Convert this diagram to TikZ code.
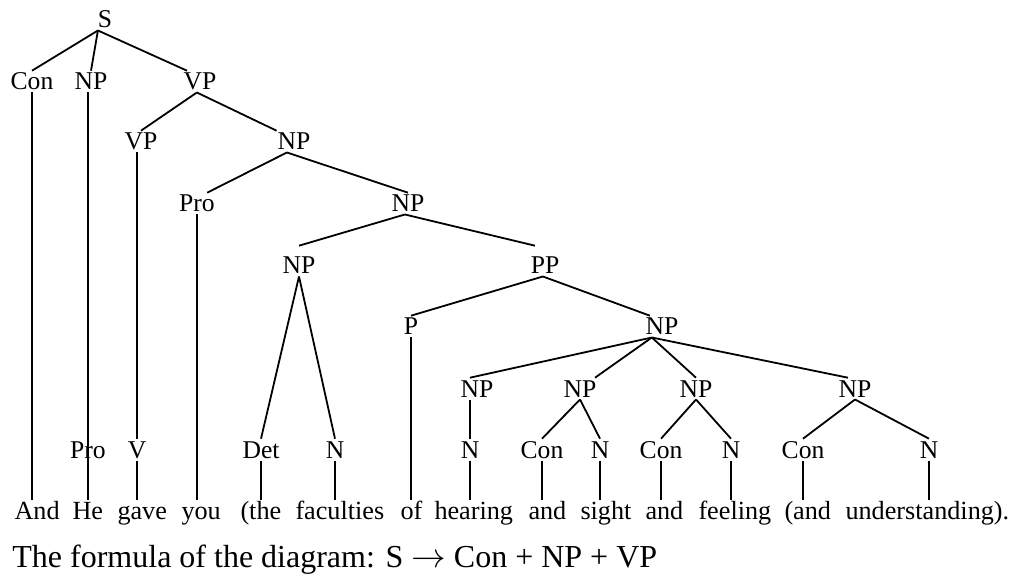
\documentclass[tikz,border=0pt]{standalone}
\usepackage{fontspec}
\setmainfont{Liberation Serif}
\usepackage{tikz}
\tikzset{
  tag/.style={font=\fontsize{12.8}{15}\selectfont, inner sep=0pt, outer sep=1.25pt,
    text height=8.4pt, text depth=0pt, anchor=base},
  word/.style={tag, font=\fontsize{13.1}{15}\selectfont, anchor=base west},
  branch/.style={line width=0.9pt}
}
\begin{document}
\begin{tikzpicture}[x=0.5pt,y=-0.5pt]
\useasboundingbox (0,0) rectangle (1015,576);
% Phrase labels
\node[tag] (s) at (105,28) {S};
\node[tag] (con1) at (32,90) {Con};
\node[tag] (np1) at (91,90) {NP};
\node[tag] (vp1) at (200,90) {VP};
\node[tag] (vp2) at (141,150) {VP};
\node[tag] (np2) at (294,150) {NP};
\node[tag] (pro3) at (197,212) {Pro};
\node[tag] (np3) at (408,212) {NP};
\node[tag] (np4) at (299,274) {NP};
\node[tag] (pp) at (545,274) {PP};
\node[tag] (p) at (411,335) {P};
\node[tag] (np5) at (662,335) {NP};
\node[tag] (np6) at (477,397) {NP};
\node[tag] (np7) at (580,397) {NP};
\node[tag] (np8) at (696,397) {NP};
\node[tag] (np9) at (855,397) {NP};
% Word classes
\node[tag] (pro7) at (88,458) {Pro};
\node[tag] (v7) at (137,458) {V};
\node[tag] (det) at (261,458) {Det};
\node[tag] (n7) at (335,458) {N};
\node[tag] (n1) at (470,458) {N};
\node[tag] (conb) at (542,458) {Con};
\node[tag] (n2) at (600,458) {N};
\node[tag] (conc) at (661,458) {Con};
\node[tag] (n3) at (731,458) {N};
\node[tag] (cond) at (803,458) {Con};
\node[tag] (n4) at (929,458) {N};
% Sentence
\node[word] (and) at (12,519) {And};
\node[word] (he) at (70,519) {He};
\node[word] (gave) at (115,519) {gave};
\node[word] (you) at (179,519) {you};
\node[word] (the) at (238,519) {(the};
\node[word] (faculties) at (293,519) {faculties};
\node[word] (of) at (398,519) {of};
\node[word] (hearing) at (432,519) {hearing};
\node[word] (anda) at (526,519) {and};
\node[word] (sight) at (578,519) {sight};
\node[word] (andb) at (643,519) {and};
\node[word] (feeling) at (696,519) {feeling};
\node[word] (andc) at (782,519) {(and};
\node[word] (understanding) at (843,519) {understanding).};
\node[anchor=base west, inner sep=0pt, font=\fontsize{16}{18}\selectfont] (formula) at (12,567)
  {The formula of the diagram: S $\rightarrow$ Con + NP + VP};

% Branches
\draw[branch] (s.237) -- (con1.north);
\draw[branch] (s.237) -- (np1.north);
\draw[branch] (s.237) -- (vp1.140);
\draw[branch] (vp1.254) -- (vp2.north);
\draw[branch] (vp1.254) -- (np2.148);
\draw[branch] (np2.237) -- (pro3.47);
\draw[branch] (np2.237) -- (np3.north);
\draw[branch] (np3.254) -- ([yshift=4.5pt]np4.north);
\draw[branch] (np3.254) -- ([xshift=-5pt,yshift=4.5pt]pp.north);
\draw[branch] (pp.259) -- (p.north);
\draw[branch] (pp.259) -- (np5.138);
\draw[branch] (np5.227) -- (n1.north |- np6.north);
\draw[branch] (np5.227) -- (np7.36);
\draw[branch] (np5.227) -- (np8.north);
\draw[branch] (np5.227) -- (np9.123);
\draw[branch] (np4.south) -- (det.north);
\draw[branch] (np4.south) -- (n7.north);
\draw[branch] (np7.south) -- (conb.north);
\draw[branch] (np7.south) -- (n2.north);
\draw[branch] (np8.south) -- (conc.north);
\draw[branch] (np8.south) -- (n3.north);
\draw[branch] (np9.south) -- (cond.north);
\draw[branch] (np9.south) -- (n4.north);
\draw[branch] (n1.north |- np6.south) -- (n1.north);
\draw[branch] (v7.north |- vp2.south) -- (v7.north);

% Down to the words
\draw[branch] (con1.south) -- (con1.south |- and.north);
\draw[branch] (pro7.south |- np1.south) -- (pro7.south |- he.north);
\draw[branch] (v7.south) -- (v7.south |- gave.north);
\draw[branch] (pro3.south) -- (pro3.south |- you.north);
\draw[branch] (det.south) -- (det.south |- the.north);
\draw[branch] (n7.south) -- (n7.south |- faculties.north);
\draw[branch] (p.south) -- (p.south |- of.north);
\draw[branch] (n1.south) -- (n1.south |- hearing.north);
\draw[branch] (conb.south) -- (conb.south |- anda.north);
\draw[branch] (n2.south) -- (n2.south |- sight.north);
\draw[branch] (conc.south) -- (conc.south |- andb.north);
\draw[branch] (n3.south) -- (n3.south |- feeling.north);
\draw[branch] (cond.south) -- (cond.south |- andc.north);
\draw[branch] (n4.south) -- (n4.south |- understanding.north);
\end{tikzpicture}
\end{document}
